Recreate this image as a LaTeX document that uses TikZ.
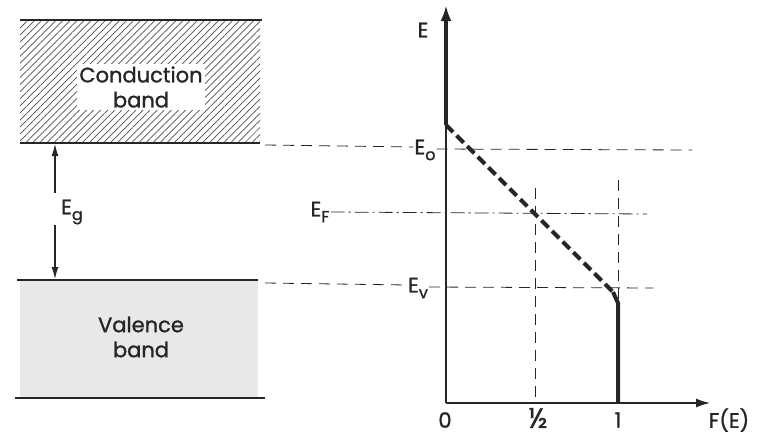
\documentclass[tikz,border=0pt]{standalone}
\usepackage{fontspec}
\setmainfont{Poppins}[UprightFeatures={FakeBold=1.2}]
\usetikzlibrary{patterns.meta,arrows.meta}
\newcommand{\lowsub}[1]{\raisebox{-0.5ex}{\fontsize{16}{16}\selectfont #1}}
\begin{document}
\begin{tikzpicture}[x=1pt,y=-1pt,
  bandline/.style={line width=1.4pt,color=black!85},
  guide/.style={line width=0.8pt,color=black!85,dash pattern=on 11pt off 7pt},
  guidedd/.style={line width=0.8pt,color=black!85,dash pattern=on 14pt off 4pt on 2pt off 4pt},
  axisline/.style={line width=1.4pt,color=black!85},
  curve/.style={line width=4pt,color=black!85},
  lbl/.style={font=\fontsize{21}{22}\selectfont,text=black!85,inner sep=1pt},
  bandtxt/.style={font=\fontsize{21}{25}\selectfont,text=black!85,align=center,inner sep=2pt},
  ebar/.style={line width=1.2pt,color=black!85,-{Latex[length=12pt,width=7pt]}}
]
\useasboundingbox (0,0) rectangle (763,437);
% conduction band
\fill[pattern={Lines[angle=45,distance=5pt,line width=0.7pt]},pattern color=black!70] (20,20) rectangle (260,143);
\draw[bandline] (20,20) -- (262,20);
\draw[bandline] (20,143) -- (260,143);
\node[bandtxt,fill=white] (cb) at (141,87) {Conduction\\band};
% valence band
\fill[black!9] (20,280) rectangle (258,398);
\draw[bandline] (17,280) -- (258,280);
\draw[bandline] (15,398) -- (265,398);
\node[bandtxt] (vb) at (141,337) {Valence\\band};
% band gap
\node[lbl] (Eg) at (72,212) {E\lowsub{g}};
\coordinate (ga1) at (55,193);
\coordinate (ga2) at (55,144);
\coordinate (gb1) at (55,225);
\coordinate (gb2) at (55,279);
\draw[ebar] (ga1) -- (ga2);
\draw[ebar] (gb1) -- (gb2);
% axes
\coordinate (O) at (446,403);
\coordinate (K1) at (446,125);
\coordinate (Etop) at (446,5);
\coordinate (Fend) at (710,403);
\draw[axisline] (K1) -- (O);
\draw[axisline,-{Latex[length=14pt,width=9pt]}] (O) -- (Fend);
\node[lbl] (E) at (423,30) {E};
\node[lbl] (FE) at (729,420) {F(E)};
\node[lbl] (t0) at (445,420) {0};
\node[lbl,font=\fontsize{28}{28}\selectfont,inner sep=0pt] (th) at (538,418) {½};
\node[lbl] (t1) at (618,420) {1};
% level labels
\node[lbl] (Eo) at (425,150) {E\lowsub{o}};
\node[lbl] (EF) at (320,212) {E\lowsub{F}};
\node[lbl] (Ev) at (418,288) {E\lowsub{v}};
% guide lines
\draw[guide] (265,145) -- (Eo.west |- 0,147);
\draw[guide] (Eo.east |- 0,149) -- (692,150);
\draw[guidedd] (EF.east |- 0,212) -- (647,214);
\draw[guide] (265,283) -- (Ev.west |- 0,285);
\draw[guide] (Ev.east |- 0,287) -- (653,288);
\coordinate (h1) at (535,188);
\coordinate (h0) at (535,403);
\coordinate (u1) at (618,180);
\coordinate (u0) at (618,403);
\draw[guide] (h1) -- (h0);
\draw[guide] (u1) -- (u0);
% Fermi function
\coordinate (K2) at (613,292);
\coordinate (K3) at (618,303);
\draw[curve,-{Latex[length=16pt,width=11pt]}] (K1) -- (Etop);
\draw[curve,dash pattern=on 10pt off 5pt] (K1) -- (K2);
\draw[curve,line join=round] (K2) -- (K3) -- (u0);
\end{tikzpicture}
\end{document}
